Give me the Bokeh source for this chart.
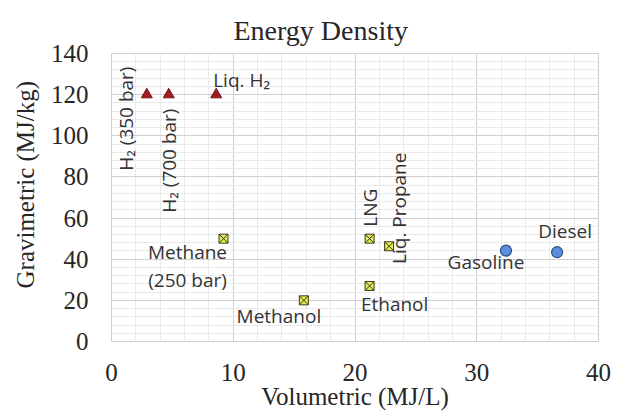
import math
from bokeh.plotting import figure
from bokeh.models import FixedTicker, Range1d, Title
from bokeh.core.properties import value
from bokeh.embed import file_html
from bokeh.resources import INLINE

# ---------------- data ----------------
h2_names = ["H₂ (350 bar)", "H₂ (700 bar)", "Liq. H₂"]
h2_vol = [2.9, 4.7, 8.6]
h2_grav = [120, 120, 120]

alt_names = ["Methane\n(250 bar)", "Methanol", "LNG", "Liq. Propane", "Ethanol"]
alt_vol = [9.2, 15.8, 21.2, 22.8, 21.2]
alt_grav = [50, 20, 50, 46.3, 27]

fossil_names = ["Gasoline", "Diesel"]
fossil_vol = [32.4, 36.6]
fossil_grav = [44.2, 43.4]

x_ticks = [0, 10, 20, 30, 40]
y_ticks = [0, 20, 40, 60, 80, 100, 120, 140]

title_text = "Energy Density"
x_title = "Volumetric (MJ/L)"
y_title = "Gravimetric (MJ/kg)"

# label placement (pixel offsets from the point, rotation in degrees)
label_place = {
    "H₂ (350 bar)": (-21, 24, 90),
    "H₂ (700 bar)": (0, 66, 90),
    "Liq. H₂": (-3, -15, 0, "left"),
    "Methane": (-36, 13, 0),
    "(250 bar)": (-36, 41, 0),
    "Methanol": (-25, 16, 0),
    "LNG": (0, -31, 90),
    "Liq. Propane": (10, -38, 90),
    "Ethanol": (25, 18, 0),
    "Gasoline": (-20, 11, 0),
    "Diesel": (8, -21, 0),
}

SERIF = "Liberation Serif"
SANS = "Open Sans"
TXT = "#262626"

p = figure(width=618, height=414, output_backend="svg", toolbar_location=None,
           x_range=Range1d(0, 40), y_range=Range1d(0, 140),
           min_border_left=109, min_border_right=20, min_border_top=53, min_border_bottom=73)
p.background_fill_color = "white"
p.border_fill_color = "white"
p.outline_line_color = "#D0D0D0"

p.title.text = title_text
p.title.align = "left"
p.title.offset = 122
p.title.standoff = 16
p.title.text_font = SERIF
p.title.text_font_size = "28px"
p.title.text_font_style = "normal"
p.title.text_color = TXT

for ax in (p.xaxis[0], p.yaxis[0]):
    ax.major_label_text_font = SERIF
    ax.major_label_text_font_size = "25px"
    ax.major_label_text_color = TXT
    ax.axis_line_color = None
    ax.major_tick_line_color = None
    ax.minor_tick_line_color = None
    ax.major_tick_out = 0
    ax.minor_tick_out = 0
    ax.axis_label_text_font = SERIF
    ax.axis_label_text_font_size = "25px"
    ax.axis_label_text_font_style = "normal"
    ax.axis_label_text_color = TXT

p.xaxis[0].ticker = FixedTicker(ticks=x_ticks, minor_ticks=[v for v in range(0, 41, 2)])
p.yaxis[0].ticker = FixedTicker(ticks=y_ticks, minor_ticks=[v for v in range(0, 141, 4)])
p.xaxis[0].major_label_standoff = 22
p.yaxis[0].major_label_standoff = 23
p.xaxis[0].axis_label = x_title
p.xaxis[0].axis_label_standoff = -1

p.add_layout(Title(text=y_title, align="left", offset=53, standoff=18,
                   text_font=SERIF, text_font_size="25px", text_font_style="normal",
                   text_color=TXT), "left")

p.xgrid.grid_line_color = "#D0D0D0"
p.ygrid.grid_line_color = "#D0D0D0"
p.xgrid.minor_grid_line_color = "#EAEAEA"
p.ygrid.minor_grid_line_color = "#EAEAEA"

# markers
p.scatter(h2_vol, h2_grav, marker="triangle", size=11,
          fill_color="#A01D22", line_color="#7A1418", line_width=1)
p.scatter(alt_vol, alt_grav, marker="square_x", size=9,
          fill_color="#E3EC54", line_color="#3A3A1A", line_width=1)
p.scatter(fossil_vol, fossil_grav, marker="circle", size=11,
          fill_color="#5B8EDC", line_color="#2E4A86", line_width=1.2)


def add_label(x, y, text):
    spec = label_place[text]
    dx, dy, ang = spec[0], spec[1], spec[2]
    align = spec[3] if len(spec) > 3 else "center"
    p.text(x=[x], y=[y], text=[text], x_offset=dx, y_offset=dy,
           angle=math.radians(ang), text_align=align, text_baseline="alphabetic",
           text_font=value(SANS), text_font_size="19px", text_color="#333333")


for names, xs, ys in ((h2_names, h2_vol, h2_grav),
                      (alt_names, alt_vol, alt_grav),
                      (fossil_names, fossil_vol, fossil_grav)):
    for n, xv, yv in zip(names, xs, ys):
        for part in n.split("\n"):
            add_label(xv, yv, part)

open("out.html", "w").write(file_html(p, INLINE))
